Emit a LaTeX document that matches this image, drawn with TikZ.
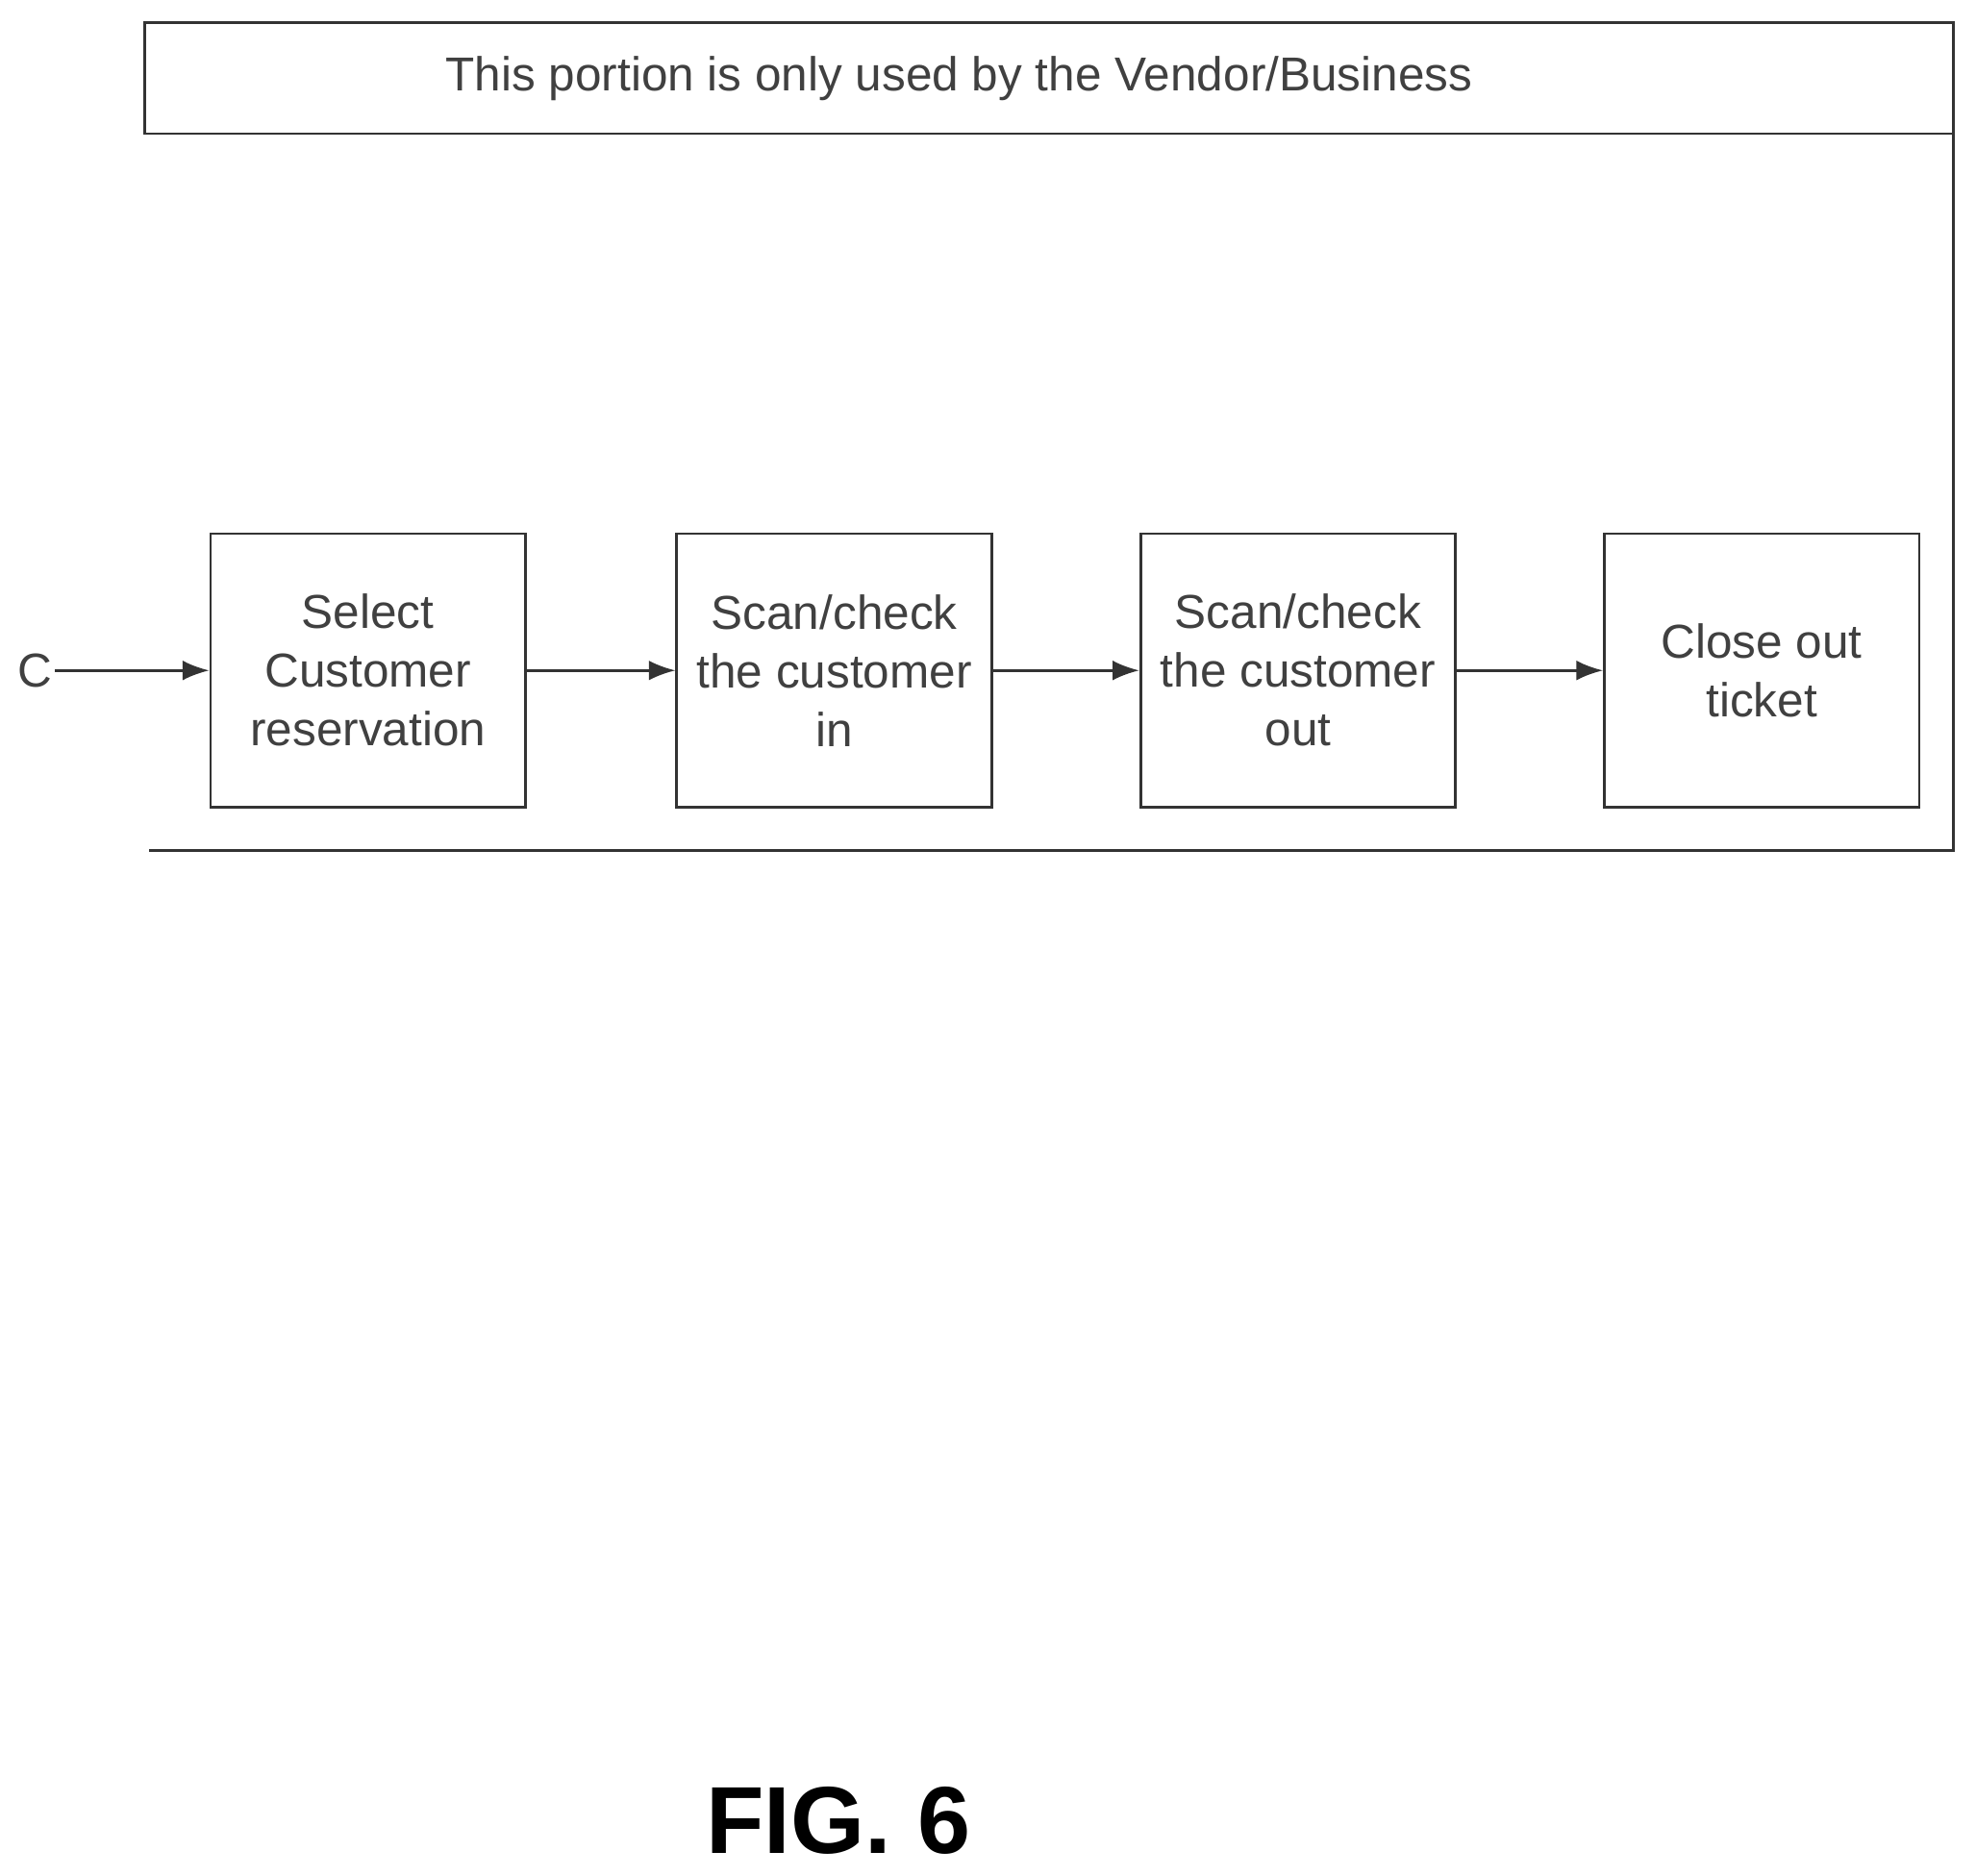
\documentclass[tikz,border=0pt]{standalone}
\usepackage{fontspec}
\setmainfont{Liberation Sans}
\usetikzlibrary{arrows.meta}
\begin{document}
\begin{tikzpicture}[x=0.02cm,y=-0.02cm,
  line/.style={draw=black!80,line width=1.2pt},
  box/.style={line, minimum width=5cm, minimum height=4.34cm, align=center, inner sep=2pt, font=\fontsize{21.5}{26.5}\selectfont, text=black!75},
  arr/.style={line, -{Latex[length=12pt,width=9pt]}}]
\useasboundingbox (0,0) rectangle (1568,1488);
\draw[line] (115,18) rectangle (1550,106);
\node[font=\fontsize{21.5}{26}\selectfont, text=black!75] (title) at (761,62) {This portion is only used by the Vendor/Business};
\draw[line] (1550,106) -- (1550,675) -- (118,675);
\node[box] (b1) at (292,532) {Select\\Customer\\reservation};
\node[box] (b2) at (662,532) {Scan/check\\the customer\\in};
\node[box] (b3) at (1030,532) {Scan/check\\the customer\\out};
\node[box] (b4) at (1398,532) {Close out\\ticket};
\node[font=\fontsize{21.5}{26}\selectfont, text=black!75, inner sep=1pt] (c) at (28,532) {C};
\draw[arr] (c) -- (b1);
\draw[arr] (b1) -- (b2);
\draw[arr] (b2) -- (b3);
\draw[arr] (b3) -- (b4);
\node[font=\fontsize{43}{50}\selectfont\bfseries] (fig) at (665,1445) {FIG. 6};
\end{tikzpicture}
\end{document}
